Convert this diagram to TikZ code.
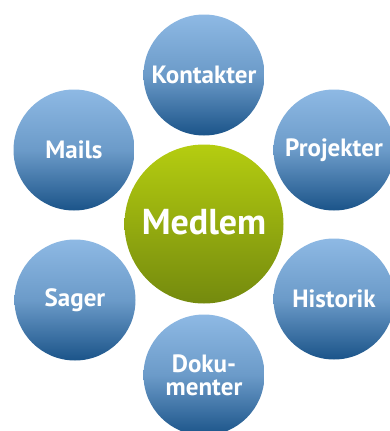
\documentclass[tikz,border=0pt]{standalone}
\usepackage{fontspec}
\setmainfont{PT Sans}
\usetikzlibrary{calc}

\definecolor{bleuhaut}{HTML}{8EB9E4}
\definecolor{bleubas}{HTML}{1B5489}
\definecolor{verthaut}{HTML}{B5CD10}
\definecolor{vertbas}{HTML}{748A0E}

\begin{document}
\begin{tikzpicture}[x=1pt,y=-1pt,
	bulle/.style={circle,minimum size=121pt,inner sep=0pt,text=white,
		font=\fontsize{25}{23}\selectfont\bfseries,align=center,
		top color=bleuhaut,bottom color=bleubas,middle color=bleuhaut!70!bleubas},
	centre/.style={circle,minimum size=159pt,inner sep=0pt,text=white,
		font=\fontsize{36}{36}\selectfont\bfseries,text depth=4pt,
		top color=verthaut,bottom color=vertbas}]
			          %cadre de l'image
			          \useasboundingbox (0,0) rectangle (389,431);
			          %bulles autour du membre
			          \node[bulle] (kontakter) at (204,75) {Kontakter};
			          \node[bulle] (projekter) at (334,150) {Projekter};
			          \node[bulle] (historik) at (334,299) {Historik};
			          \node[bulle] (dokumenter) at (204,375) {Doku-\\menter};
			          \node[bulle] (sager) at (75,300) {Sager};
			          \node[bulle] (mails) at (74,150) {Mails};
			          %bulle centrale
			          \node[centre] (medlem) at (204,224) {Medlem};
				  \end{tikzpicture}
\end{document}
